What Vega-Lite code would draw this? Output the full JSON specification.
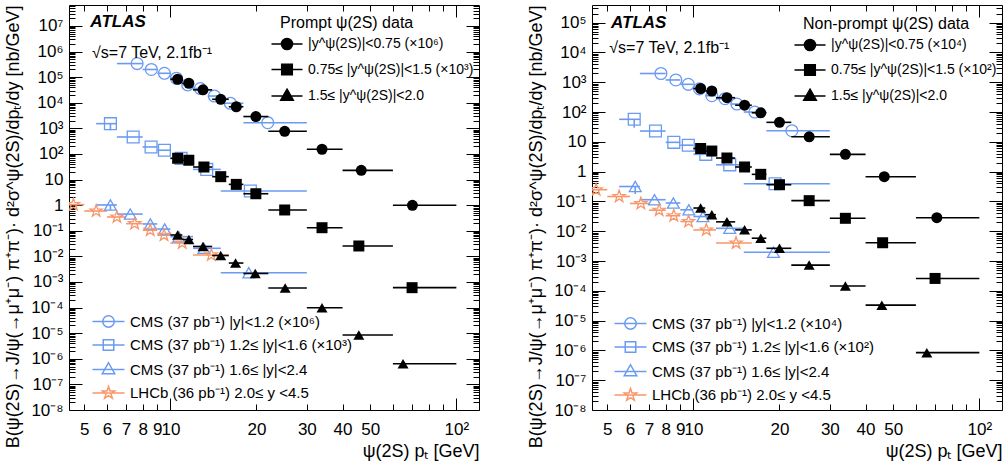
{
"$schema": "https://vega.github.io/schema/vega-lite/v6.json",
"padding": {"left": 4, "top": 4, "right": 2, "bottom": 0},
"spacing": 113,
"bounds": "flush",
"config": {
  "font": "Liberation Sans",
  "view": {"stroke": "black", "strokeWidth": 1},
  "axis": {"grid": false, "domain": false, "labelColor": "black", "titleColor": "black", "labelFont": "Liberation Sans", "titleFont": "Liberation Sans", "labelFontSize": 17, "titleFontSize": 18, "titleFontWeight": "normal", "tickColor": "black", "tickWidth": 1},
  "legend": {"labelFont": "Liberation Sans", "titleFont": "Liberation Sans", "labelFontSize": 15, "titleFontSize": 16, "titleFontWeight": "normal", "labelColor": "black", "titleColor": "black", "padding": 0, "labelLimit": 400, "titleLimit": 400}
},
"datasets": {
"P": [
{"s":"A1","x":10.6,"lo":10,"hi":11,"y":8.3e4},
{"s":"A1","x":11.6,"lo":11,"hi":12,"y":5.8e4},
{"s":"A1","x":13.0,"lo":12,"hi":14,"y":3.2e4},
{"s":"A1","x":15.0,"lo":14,"hi":16,"y":1.37e4},
{"s":"A1","x":17.0,"lo":16,"hi":18,"y":7.0e3},
{"s":"A1","x":19.9,"lo":18,"hi":22,"y":2.9e3},
{"s":"A1","x":25.1,"lo":22,"hi":30,"y":770},
{"s":"A1","x":33.9,"lo":30,"hi":40,"y":153},
{"s":"A1","x":46.5,"lo":40,"hi":60,"y":23},
{"s":"A1","x":70.2,"lo":60,"hi":100,"y":0.99},
{"s":"A2","x":10.6,"lo":10,"hi":11,"y":68},
{"s":"A2","x":11.6,"lo":11,"hi":12,"y":57},
{"s":"A2","x":13.1,"lo":12,"hi":14,"y":31},
{"s":"A2","x":15.0,"lo":14,"hi":16,"y":13},
{"s":"A2","x":17.0,"lo":16,"hi":18,"y":6.5},
{"s":"A2","x":19.9,"lo":18,"hi":22,"y":2.8},
{"s":"A2","x":25.1,"lo":22,"hi":30,"y":0.65},
{"s":"A2","x":33.9,"lo":30,"hi":40,"y":0.132},
{"s":"A2","x":45.6,"lo":40,"hi":60,"y":0.0255},
{"s":"A2","x":70.0,"lo":60,"hi":100,"y":6.0e-4},
{"s":"A3","x":10.6,"lo":10,"hi":11,"y":0.0686},
{"s":"A3","x":11.6,"lo":11,"hi":12,"y":0.0457},
{"s":"A3","x":13.0,"lo":12,"hi":14,"y":0.0244},
{"s":"A3","x":15.0,"lo":14,"hi":16,"y":0.0108},
{"s":"A3","x":16.9,"lo":16,"hi":18,"y":0.0055},
{"s":"A3","x":19.8,"lo":18,"hi":22,"y":0.00215},
{"s":"A3","x":25.2,"lo":22,"hi":30,"y":5.8e-4},
{"s":"A3","x":33.9,"lo":30,"hi":40,"y":9.9e-5},
{"s":"A3","x":45.6,"lo":40,"hi":60,"y":8.5e-6},
{"s":"A3","x":65.1,"lo":60,"hi":100,"y":6.4e-7},
{"s":"C1","x":7.65,"lo":6.5,"hi":8,"y":3.4e5},
{"s":"C1","x":8.58,"lo":8,"hi":9,"y":2.0e5},
{"s":"C1","x":9.53,"lo":9,"hi":10,"y":1.42e5},
{"s":"C1","x":10.5,"lo":10,"hi":11,"y":9.1e4},
{"s":"C1","x":11.5,"lo":11,"hi":12,"y":5.0e4},
{"s":"C1","x":12.73,"lo":12,"hi":13.5,"y":3.6e4},
{"s":"C1","x":14.25,"lo":13.5,"hi":15,"y":1.84e4},
{"s":"C1","x":16.2,"lo":15,"hi":18,"y":9.6e3},
{"s":"C1","x":21.9,"lo":18,"hi":30,"y":1.67e3},
{"s":"C2","x":6.17,"lo":5.5,"hi":6.5,"y":1530,"ylo":843,"yhi":1530},
{"s":"C2","x":7.41,"lo":6.5,"hi":8,"y":461},
{"s":"C2","x":8.56,"lo":8,"hi":9,"y":188},
{"s":"C2","x":9.53,"lo":9,"hi":10,"y":140},
{"s":"C2","x":10.9,"lo":10,"hi":12,"y":67},
{"s":"C2","x":13.4,"lo":12,"hi":15,"y":25},
{"s":"C2","x":19.04,"lo":15,"hi":30,"y":3.6},
{"s":"C3","x":6.17,"lo":5.5,"hi":6.5,"y":1.02,"ylo":0.65,"yhi":1.02},
{"s":"C3","x":7.24,"lo":6.5,"hi":8,"y":0.45},
{"s":"C3","x":8.51,"lo":8,"hi":9,"y":0.185},
{"s":"C3","x":9.55,"lo":9,"hi":10,"y":0.117},
{"s":"C3","x":10.7,"lo":10,"hi":12,"y":0.059},
{"s":"C3","x":13.1,"lo":12,"hi":15,"y":0.0207},
{"s":"C3","x":18.8,"lo":15,"hi":30,"y":0.0023},
{"s":"L","x":4.58,"lo":4,"hi":5,"y":1.05},
{"s":"L","x":5.5,"lo":5,"hi":6,"y":0.59},
{"s":"L","x":6.5,"lo":6,"hi":7,"y":0.346},
{"s":"L","x":7.5,"lo":7,"hi":8,"y":0.19},
{"s":"L","x":8.5,"lo":8,"hi":9,"y":0.105},
{"s":"L","x":9.5,"lo":9,"hi":10,"y":0.067},
{"s":"L","x":11.0,"lo":10,"hi":12,"y":0.0333},
{"s":"L","x":13.9,"lo":12,"hi":16,"y":0.0114}
],
"N": [
{"s":"A1","x":10.6,"lo":10,"hi":11,"y":615},
{"s":"A1","x":11.6,"lo":11,"hi":12,"y":507},
{"s":"A1","x":13.1,"lo":12,"hi":14,"y":302},
{"s":"A1","x":15.1,"lo":14,"hi":16,"y":169},
{"s":"A1","x":17.2,"lo":16,"hi":18,"y":94},
{"s":"A1","x":20.0,"lo":18,"hi":22,"y":45},
{"s":"A1","x":25.4,"lo":22,"hi":30,"y":14.7},
{"s":"A1","x":34.0,"lo":30,"hi":40,"y":3.8},
{"s":"A1","x":46.5,"lo":40,"hi":60,"y":0.675},
{"s":"A1","x":71.0,"lo":60,"hi":100,"y":0.0284},
{"s":"A2","x":10.6,"lo":10,"hi":11,"y":5.96},
{"s":"A2","x":11.6,"lo":11,"hi":12,"y":4.9},
{"s":"A2","x":13.1,"lo":12,"hi":14,"y":2.86},
{"s":"A2","x":15.1,"lo":14,"hi":16,"y":1.43},
{"s":"A2","x":17.2,"lo":16,"hi":18,"y":0.81},
{"s":"A2","x":20.0,"lo":18,"hi":22,"y":0.363},
{"s":"A2","x":25.4,"lo":22,"hi":30,"y":0.106},
{"s":"A2","x":34.0,"lo":30,"hi":40,"y":0.0271},
{"s":"A2","x":45.9,"lo":40,"hi":60,"y":0.0041},
{"s":"A2","x":70.0,"lo":60,"hi":100,"y":2.6e-4},
{"s":"A3","x":10.6,"lo":10,"hi":11,"y":0.060},
{"s":"A3","x":11.6,"lo":11,"hi":12,"y":0.0358},
{"s":"A3","x":13.1,"lo":12,"hi":14,"y":0.0206},
{"s":"A3","x":15.1,"lo":14,"hi":16,"y":0.0111},
{"s":"A3","x":17.2,"lo":16,"hi":18,"y":0.00582},
{"s":"A3","x":20.0,"lo":18,"hi":22,"y":0.00267},
{"s":"A3","x":25.4,"lo":22,"hi":30,"y":7.3e-4},
{"s":"A3","x":34.0,"lo":30,"hi":40,"y":1.45e-4},
{"s":"A3","x":45.6,"lo":40,"hi":60,"y":3.3e-5},
{"s":"A3","x":65.5,"lo":60,"hi":100,"y":8.4e-7},
{"s":"C1","x":7.7,"lo":6.5,"hi":8,"y":1960},
{"s":"C1","x":8.68,"lo":8,"hi":9,"y":1190},
{"s":"C1","x":9.6,"lo":9,"hi":10,"y":850},
{"s":"C1","x":10.5,"lo":10,"hi":11,"y":600},
{"s":"C1","x":11.6,"lo":11,"hi":12,"y":352},
{"s":"C1","x":12.9,"lo":12,"hi":13.5,"y":279},
{"s":"C1","x":14.2,"lo":13.5,"hi":15,"y":185},
{"s":"C1","x":16.4,"lo":15,"hi":18,"y":100},
{"s":"C1","x":22.1,"lo":18,"hi":30,"y":23.6},
{"s":"C2","x":6.21,"lo":5.5,"hi":6.5,"y":56.9,"ylo":29.7,"yhi":56.9},
{"s":"C2","x":7.37,"lo":6.5,"hi":8,"y":23},
{"s":"C2","x":8.54,"lo":8,"hi":9,"y":9.6},
{"s":"C2","x":9.6,"lo":9,"hi":10,"y":7.7},
{"s":"C2","x":11.05,"lo":10,"hi":12,"y":3.8},
{"s":"C2","x":13.4,"lo":12,"hi":15,"y":1.69},
{"s":"C2","x":19.3,"lo":15,"hi":30,"y":0.393},
{"s":"C3","x":6.26,"lo":5.5,"hi":6.5,"y":0.316,"ylo":0.177,"yhi":0.316},
{"s":"C3","x":7.31,"lo":6.5,"hi":8,"y":0.114},
{"s":"C3","x":8.51,"lo":8,"hi":9,"y":0.0883},
{"s":"C3","x":9.64,"lo":9,"hi":10,"y":0.0522},
{"s":"C3","x":10.8,"lo":10,"hi":12,"y":0.0311},
{"s":"C3","x":13.4,"lo":12,"hi":15,"y":0.0125},
{"s":"C3","x":19.05,"lo":15,"hi":30,"y":0.00197},
{"s":"L","x":4.57,"lo":4,"hi":5,"y":0.247},
{"s":"L","x":5.5,"lo":5,"hi":6,"y":0.146},
{"s":"L","x":6.55,"lo":6,"hi":7,"y":0.0851},
{"s":"L","x":7.59,"lo":7,"hi":8,"y":0.0507},
{"s":"L","x":8.54,"lo":8,"hi":9,"y":0.0331},
{"s":"L","x":9.62,"lo":9,"hi":10,"y":0.0212},
{"s":"L","x":11.1,"lo":10,"hi":12,"y":0.011},
{"s":"L","x":14.1,"lo":12,"hi":16,"y":0.004}
]
},
"hconcat": [
{
"width": 410, "height": 405,
"data": {"name": "P"},
"resolve": {"axis": {"x": "independent", "y": "independent"}, "scale": {"shape": "independent", "color": "independent"}},
"layer": [
{"transform": [{"filter": {"field": "s", "oneOf": ["C1","C2","C3"]}}],
 "mark": {"type": "rule", "color": "#6a9af2", "strokeWidth": 1.6, "clip": true},
 "encoding": {
  "x": {"field": "lo", "type": "quantitative", "scale": {"type": "log", "domain": [4.42, 120], "nice": false},
        "axis": {"orient": "bottom", "values": [5,6,7,8,9,10,20,30,40,50,100], "labelExpr": "datum.value == 100 ? '10²' : '' + datum.value", "ticks": false, "labelPadding": 11, "labelOverlap": false, "labelFlush": false, "title": "ψ(2S) pₜ [GeV]", "titleAnchor": "end", "titlePadding": 5}},
  "x2": {"field": "hi"},
  "y": {"field": "y", "type": "quantitative", "scale": {"type": "log", "domain": [1e-8, 6.6e7], "nice": false},
        "axis": {"orient": "left", "values": [1e-8,1e-7,1e-6,1e-5,1e-4,1e-3,1e-2,1e-1,1,10,100,1e3,1e4,1e5,1e6,1e7], "labelExpr": "datum.value == 1 ? '1' : datum.value == 10 ? '10' : '10' + ['⁻⁸','⁻⁷','⁻⁶','⁻⁵','⁻⁴','⁻³','⁻²','⁻¹','⁰','¹','²','³','⁴','⁵','⁶','⁷'][round(log(datum.value)/LN10) + 8]", "ticks": false, "labelPadding": 6, "labelOverlap": false, "labelFlush": false, "title": "B(ψ(2S)→J/ψ(→μ⁺μ⁻) π⁺π⁻)· d²σ^ψ(2S)/dpₜ/dy [nb/GeV]", "titleAnchor": "end", "titlePadding": 8}}
 }},
{"transform": [{"filter": {"field": "s", "equal": "L"}}],
 "mark": {"type": "rule", "color": "#f7966b", "strokeWidth": 1.6, "clip": true},
 "encoding": {
  "x": {"field": "lo", "type": "quantitative", "scale": {"type": "log", "domain": [4.42, 120], "nice": false},
        "axis": {"orient": "bottom", "values": [5,6,7,8,9,10,20,30,40,50,60,70,80,90,100], "labels": false, "title": null, "tickSize": {"condition": {"test": "datum.value == 10 || datum.value == 100", "value": -12}, "value": -6}}},
  "x2": {"field": "hi"},
  "y": {"field": "y", "type": "quantitative", "scale": {"type": "log", "domain": [1e-8, 6.6e7], "nice": false},
        "axis": {"orient": "left", "tickCount": 100, "labels": false, "title": null, "tickSize": {"condition": {"test": "abs(log(datum.value)/LN10 - round(log(datum.value)/LN10)) < 0.001", "value": -13}, "value": -6}}}
 }},
{"transform": [{"filter": "isValid(datum.ylo)"}],
 "mark": {"type": "rule", "color": "#6a9af2", "strokeWidth": 1.6, "clip": true},
 "encoding": {
  "x": {"field": "x", "type": "quantitative", "scale": {"type": "log", "domain": [4.42, 120], "nice": false},
        "axis": {"orient": "top", "values": [5,6,7,8,9,10,20,30,40,50,60,70,80,90,100], "labels": false, "title": null, "tickSize": {"condition": {"test": "datum.value == 10 || datum.value == 100", "value": -12}, "value": -6}}},
  "y": {"field": "ylo", "type": "quantitative", "scale": {"type": "log", "domain": [1e-8, 6.6e7], "nice": false},
        "axis": {"orient": "right", "tickCount": 100, "labels": false, "title": null, "tickSize": {"condition": {"test": "abs(log(datum.value)/LN10 - round(log(datum.value)/LN10)) < 0.001", "value": -13}, "value": -6}}},
  "y2": {"field": "yhi"}
 }},
{"transform": [{"filter": {"field": "s", "oneOf": ["C1","C2","C3"]}}],
 "mark": {"type": "point", "filled": false, "color": "#6a9af2", "strokeWidth": 1.3, "opacity": 1, "size": 140, "clip": true},
 "encoding": {
  "x": {"field": "x", "type": "quantitative", "scale": {"type": "log", "domain": [4.42, 120], "nice": false}, "axis": null},
  "y": {"field": "y", "type": "quantitative", "scale": {"type": "log", "domain": [1e-8, 6.6e7], "nice": false}, "axis": null},
  "shape": {"field": "s", "type": "nominal", "scale": {"domain": ["C1","C2","C3"], "range": ["circle","square","triangle-up"]}, "legend": null}
 }},
{"transform": [{"filter": {"field": "s", "equal": "L"}}],
 "mark": {"type": "point", "filled": false, "color": "#f7966b", "strokeWidth": 1.3, "opacity": 1, "size": 160, "clip": true, "shape": "M0,-1L0.235,-0.324L0.951,-0.309L0.38,0.124L0.588,0.809L0,0.4L-0.588,0.809L-0.38,0.124L-0.951,-0.309L-0.235,-0.324Z"},
 "encoding": {
  "x": {"field": "x", "type": "quantitative", "scale": {"type": "log", "domain": [4.42, 120], "nice": false}, "axis": null},
  "y": {"field": "y", "type": "quantitative", "scale": {"type": "log", "domain": [1e-8, 6.6e7], "nice": false}, "axis": null}
 }},
{"transform": [{"filter": {"field": "s", "oneOf": ["A1","A2","A3"]}}],
 "mark": {"type": "rule", "color": "black", "strokeWidth": 1.6, "clip": true},
 "encoding": {
  "x": {"field": "lo", "type": "quantitative", "scale": {"type": "log", "domain": [4.42, 120], "nice": false}, "axis": null},
  "x2": {"field": "hi"},
  "y": {"field": "y", "type": "quantitative", "scale": {"type": "log", "domain": [1e-8, 6.6e7], "nice": false}, "axis": null}
 }},
{"transform": [{"filter": {"field": "s", "oneOf": ["A1","A2","A3"]}}],
 "mark": {"type": "point", "filled": true, "color": "black", "opacity": 1, "size": 121, "clip": true},
 "encoding": {
  "x": {"field": "x", "type": "quantitative", "scale": {"type": "log", "domain": [4.42, 120], "nice": false}, "axis": null},
  "y": {"field": "y", "type": "quantitative", "scale": {"type": "log", "domain": [1e-8, 6.6e7], "nice": false}, "axis": null},
  "shape": {"field": "s", "type": "nominal", "scale": {"domain": ["A1","A2","A3"], "range": ["circle","square","triangle-up"]}, "legend": null}
 }},
{"transform": [{"filter": "false"}],
 "mark": {"type": "point", "filled": true, "color": "black", "stroke": "black", "strokeWidth": 1.6, "opacity": 1},
 "encoding": {
  "x": {"field": "x", "type": "quantitative", "scale": {"type": "log", "domain": [4.42, 120], "nice": false}, "axis": null},
  "y": {"field": "y", "type": "quantitative", "scale": {"type": "log", "domain": [1e-8, 6.6e7], "nice": false}, "axis": null},
  "shape": {"field": "s", "type": "nominal",
   "scale": {"domain": ["A1","A2","A3"], "range": ["M-3.1,0H3.1M-1.1,0A1.1,1.1,0,1,0,1.1,0A1.1,1.1,0,1,0,-1.1,0Z", "M-3.1,0H3.1M-1.05,-1.05H1.05V1.05H-1.05Z", "M-3.1,0H3.1M0,-1.35L1.25,0.85H-1.25Z"]},
   "legend": {"orient": "none", "legendX": 211, "legendY": 10, "title": "Prompt ψ(2S) data", "titleAnchor": "start", "titlePadding": 6, "symbolSize": 100, "symbolStrokeWidth": 1.6, "labelOffset": 14, "rowPadding": 7.5, "labelFontSize": 14,
     "labelExpr": "{'A1': '|y^ψ(2S)|<0.75 (×10⁶)', 'A2': '0.75≤ |y^ψ(2S)|<1.5 (×10³)', 'A3': '1.5≤ |y^ψ(2S)|<2.0'}[datum.value]"}}
 }},
{"transform": [{"filter": "false"}],
 "mark": {"type": "point", "filled": false, "strokeWidth": 1.5, "opacity": 1},
 "encoding": {
  "x": {"field": "x", "type": "quantitative", "scale": {"type": "log", "domain": [4.42, 120], "nice": false}, "axis": null},
  "y": {"field": "y", "type": "quantitative", "scale": {"type": "log", "domain": [1e-8, 6.6e7], "nice": false}, "axis": null},
  "shape": {"field": "s", "type": "nominal",
   "scale": {"domain": ["C1","C2","C3","L"], "range": ["M-3.2,0H3.2M-1.15,0A1.15,1.15,0,1,0,1.15,0A1.15,1.15,0,1,0,-1.15,0Z", "M-3.2,0H3.2M-1.05,-1.05H1.05V1.05H-1.05Z", "M-3.2,0H3.2M0,-1.35L1.25,0.85H-1.25Z", "M-3.2,0H3.2M0,-1.3L0.3,-0.42L1.24,-0.4L0.49,0.16L0.76,1.05L0,0.52L-0.76,1.05L-0.49,0.16L-1.24,-0.4L-0.3,-0.42Z"]},
   "legend": {"orient": "none", "legendX": 32, "legendY": 309, "title": null, "symbolSize": 100, "symbolStrokeWidth": 1.5, "labelOffset": 14, "rowPadding": 5.5,
     "labelExpr": "{'C1': 'CMS (37 pb⁻¹) |y|<1.2 (×10⁶)', 'C2': 'CMS (37 pb⁻¹) 1.2≤ |y|<1.6 (×10³)', 'C3': 'CMS (37 pb⁻¹) 1.6≤ |y|<2.4', 'L': 'LHCb (36 pb⁻¹) 2.0≤ y <4.5'}[datum.value]"}},
  "color": {"field": "s", "type": "nominal",
   "scale": {"domain": ["C1","C2","C3","L"], "range": ["#6a9af2","#6a9af2","#6a9af2","#f7966b"]},
   "legend": {"orient": "none", "legendX": 32, "legendY": 309, "title": null, "symbolSize": 100, "symbolStrokeWidth": 1.5, "labelOffset": 14, "rowPadding": 5.5,
     "labelExpr": "{'C1': 'CMS (37 pb⁻¹) |y|<1.2 (×10⁶)', 'C2': 'CMS (37 pb⁻¹) 1.2≤ |y|<1.6 (×10³)', 'C3': 'CMS (37 pb⁻¹) 1.6≤ |y|<2.4', 'L': 'LHCb (36 pb⁻¹) 2.0≤ y <4.5'}[datum.value]"}}
 }},
{"data": {"values": [{"t": "ATLAS"}]},
 "mark": {"type": "text", "align": "left", "baseline": "middle", "fontSize": 17, "fontWeight": "bold", "fontStyle": "italic", "color": "black"},
 "encoding": {
  "x": {"datum": 5.25, "type": "quantitative", "scale": {"type": "log", "domain": [4.42, 120], "nice": false}, "axis": null},
  "y": {"datum": 1.4e7, "type": "quantitative", "scale": {"type": "log", "domain": [1e-8, 6.6e7], "nice": false}, "axis": null},
  "text": {"field": "t"}
 }},
{"data": {"values": [{"t": "√s=7 TeV, 2.1fb⁻¹"}]},
 "mark": {"type": "text", "align": "left", "baseline": "middle", "fontSize": 16, "color": "black"},
 "encoding": {
  "x": {"datum": 5.32, "type": "quantitative", "scale": {"type": "log", "domain": [4.42, 120], "nice": false}, "axis": null},
  "y": {"datum": 9.0e5, "type": "quantitative", "scale": {"type": "log", "domain": [1e-8, 6.6e7], "nice": false}, "axis": null},
  "text": {"field": "t"}
 }}
]
},
{
"width": 410, "height": 405,
"data": {"name": "N"},
"resolve": {"axis": {"x": "independent", "y": "independent"}, "scale": {"shape": "independent", "color": "independent"}},
"layer": [
{"transform": [{"filter": {"field": "s", "oneOf": ["C1","C2","C3"]}}],
 "mark": {"type": "rule", "color": "#6a9af2", "strokeWidth": 1.6, "clip": true},
 "encoding": {
  "x": {"field": "lo", "type": "quantitative", "scale": {"type": "log", "domain": [4.42, 120], "nice": false},
        "axis": {"orient": "bottom", "values": [5,6,7,8,9,10,20,30,40,50,100], "labelExpr": "datum.value == 100 ? '10²' : '' + datum.value", "ticks": false, "labelPadding": 11, "labelOverlap": false, "labelFlush": false, "title": "ψ(2S) pₜ [GeV]", "titleAnchor": "end", "titlePadding": 5}},
  "x2": {"field": "hi"},
  "y": {"field": "y", "type": "quantitative", "scale": {"type": "log", "domain": [1e-8, 3.9e5], "nice": false},
        "axis": {"orient": "left", "values": [1e-8,1e-7,1e-6,1e-5,1e-4,1e-3,1e-2,1e-1,1,10,100,1e3,1e4,1e5], "labelExpr": "datum.value == 1 ? '1' : datum.value == 10 ? '10' : '10' + ['⁻⁸','⁻⁷','⁻⁶','⁻⁵','⁻⁴','⁻³','⁻²','⁻¹','⁰','¹','²','³','⁴','⁵','⁶','⁷'][round(log(datum.value)/LN10) + 8]", "ticks": false, "labelPadding": 6, "labelOverlap": false, "labelFlush": false, "title": "B(ψ(2S)→J/ψ(→μ⁺μ⁻) π⁺π⁻)· d²σ^ψ(2S)/dpₜ/dy [nb/GeV]", "titleAnchor": "end", "titlePadding": 8}}
 }},
{"transform": [{"filter": {"field": "s", "equal": "L"}}],
 "mark": {"type": "rule", "color": "#f7966b", "strokeWidth": 1.6, "clip": true},
 "encoding": {
  "x": {"field": "lo", "type": "quantitative", "scale": {"type": "log", "domain": [4.42, 120], "nice": false},
        "axis": {"orient": "bottom", "values": [5,6,7,8,9,10,20,30,40,50,60,70,80,90,100], "labels": false, "title": null, "tickSize": {"condition": {"test": "datum.value == 10 || datum.value == 100", "value": -12}, "value": -6}}},
  "x2": {"field": "hi"},
  "y": {"field": "y", "type": "quantitative", "scale": {"type": "log", "domain": [1e-8, 3.9e5], "nice": false},
        "axis": {"orient": "left", "tickCount": 100, "labels": false, "title": null, "tickSize": {"condition": {"test": "abs(log(datum.value)/LN10 - round(log(datum.value)/LN10)) < 0.001", "value": -13}, "value": -6}}}
 }},
{"transform": [{"filter": "isValid(datum.ylo)"}],
 "mark": {"type": "rule", "color": "#6a9af2", "strokeWidth": 1.6, "clip": true},
 "encoding": {
  "x": {"field": "x", "type": "quantitative", "scale": {"type": "log", "domain": [4.42, 120], "nice": false},
        "axis": {"orient": "top", "values": [5,6,7,8,9,10,20,30,40,50,60,70,80,90,100], "labels": false, "title": null, "tickSize": {"condition": {"test": "datum.value == 10 || datum.value == 100", "value": -12}, "value": -6}}},
  "y": {"field": "ylo", "type": "quantitative", "scale": {"type": "log", "domain": [1e-8, 3.9e5], "nice": false},
        "axis": {"orient": "right", "tickCount": 100, "labels": false, "title": null, "tickSize": {"condition": {"test": "abs(log(datum.value)/LN10 - round(log(datum.value)/LN10)) < 0.001", "value": -13}, "value": -6}}},
  "y2": {"field": "yhi"}
 }},
{"transform": [{"filter": {"field": "s", "oneOf": ["C1","C2","C3"]}}],
 "mark": {"type": "point", "filled": false, "color": "#6a9af2", "strokeWidth": 1.3, "opacity": 1, "size": 140, "clip": true},
 "encoding": {
  "x": {"field": "x", "type": "quantitative", "scale": {"type": "log", "domain": [4.42, 120], "nice": false}, "axis": null},
  "y": {"field": "y", "type": "quantitative", "scale": {"type": "log", "domain": [1e-8, 3.9e5], "nice": false}, "axis": null},
  "shape": {"field": "s", "type": "nominal", "scale": {"domain": ["C1","C2","C3"], "range": ["circle","square","triangle-up"]}, "legend": null}
 }},
{"transform": [{"filter": {"field": "s", "equal": "L"}}],
 "mark": {"type": "point", "filled": false, "color": "#f7966b", "strokeWidth": 1.3, "opacity": 1, "size": 160, "clip": true, "shape": "M0,-1L0.235,-0.324L0.951,-0.309L0.38,0.124L0.588,0.809L0,0.4L-0.588,0.809L-0.38,0.124L-0.951,-0.309L-0.235,-0.324Z"},
 "encoding": {
  "x": {"field": "x", "type": "quantitative", "scale": {"type": "log", "domain": [4.42, 120], "nice": false}, "axis": null},
  "y": {"field": "y", "type": "quantitative", "scale": {"type": "log", "domain": [1e-8, 3.9e5], "nice": false}, "axis": null}
 }},
{"transform": [{"filter": {"field": "s", "oneOf": ["A1","A2","A3"]}}],
 "mark": {"type": "rule", "color": "black", "strokeWidth": 1.6, "clip": true},
 "encoding": {
  "x": {"field": "lo", "type": "quantitative", "scale": {"type": "log", "domain": [4.42, 120], "nice": false}, "axis": null},
  "x2": {"field": "hi"},
  "y": {"field": "y", "type": "quantitative", "scale": {"type": "log", "domain": [1e-8, 3.9e5], "nice": false}, "axis": null}
 }},
{"transform": [{"filter": {"field": "s", "oneOf": ["A1","A2","A3"]}}],
 "mark": {"type": "point", "filled": true, "color": "black", "opacity": 1, "size": 121, "clip": true},
 "encoding": {
  "x": {"field": "x", "type": "quantitative", "scale": {"type": "log", "domain": [4.42, 120], "nice": false}, "axis": null},
  "y": {"field": "y", "type": "quantitative", "scale": {"type": "log", "domain": [1e-8, 3.9e5], "nice": false}, "axis": null},
  "shape": {"field": "s", "type": "nominal", "scale": {"domain": ["A1","A2","A3"], "range": ["circle","square","triangle-up"]}, "legend": null}
 }},
{"transform": [{"filter": "false"}],
 "mark": {"type": "point", "filled": true, "color": "black", "stroke": "black", "strokeWidth": 1.6, "opacity": 1},
 "encoding": {
  "x": {"field": "x", "type": "quantitative", "scale": {"type": "log", "domain": [4.42, 120], "nice": false}, "axis": null},
  "y": {"field": "y", "type": "quantitative", "scale": {"type": "log", "domain": [1e-8, 3.9e5], "nice": false}, "axis": null},
  "shape": {"field": "s", "type": "nominal",
   "scale": {"domain": ["A1","A2","A3"], "range": ["M-3.1,0H3.1M-1.1,0A1.1,1.1,0,1,0,1.1,0A1.1,1.1,0,1,0,-1.1,0Z", "M-3.1,0H3.1M-1.05,-1.05H1.05V1.05H-1.05Z", "M-3.1,0H3.1M0,-1.35L1.25,0.85H-1.25Z"]},
   "legend": {"orient": "none", "legendX": 211, "legendY": 11, "title": "Non-prompt ψ(2S) data", "titleAnchor": "start", "titlePadding": 6, "symbolSize": 100, "symbolStrokeWidth": 1.6, "labelOffset": 14, "rowPadding": 7, "labelFontSize": 14,
     "labelExpr": "{'A1': '|y^ψ(2S)|<0.75 (×10⁴)', 'A2': '0.75≤ |y^ψ(2S)|<1.5 (×10²)', 'A3': '1.5≤ |y^ψ(2S)|<2.0'}[datum.value]"}}
 }},
{"transform": [{"filter": "false"}],
 "mark": {"type": "point", "filled": false, "strokeWidth": 1.5, "opacity": 1},
 "encoding": {
  "x": {"field": "x", "type": "quantitative", "scale": {"type": "log", "domain": [4.42, 120], "nice": false}, "axis": null},
  "y": {"field": "y", "type": "quantitative", "scale": {"type": "log", "domain": [1e-8, 3.9e5], "nice": false}, "axis": null},
  "shape": {"field": "s", "type": "nominal",
   "scale": {"domain": ["C1","C2","C3","L"], "range": ["M-3.2,0H3.2M-1.15,0A1.15,1.15,0,1,0,1.15,0A1.15,1.15,0,1,0,-1.15,0Z", "M-3.2,0H3.2M-1.05,-1.05H1.05V1.05H-1.05Z", "M-3.2,0H3.2M0,-1.35L1.25,0.85H-1.25Z", "M-3.2,0H3.2M0,-1.3L0.3,-0.42L1.24,-0.4L0.49,0.16L0.76,1.05L0,0.52L-0.76,1.05L-0.49,0.16L-1.24,-0.4L-0.3,-0.42Z"]},
   "legend": {"orient": "none", "legendX": 31, "legendY": 311, "title": null, "symbolSize": 100, "symbolStrokeWidth": 1.5, "labelOffset": 14, "rowPadding": 5.5,
     "labelExpr": "{'C1': 'CMS (37 pb⁻¹) |y|<1.2 (×10⁴)', 'C2': 'CMS (37 pb⁻¹) 1.2≤ |y|<1.6 (×10²)', 'C3': 'CMS (37 pb⁻¹) 1.6≤ |y|<2.4', 'L': 'LHCb (36 pb⁻¹) 2.0≤ y <4.5'}[datum.value]"}},
  "color": {"field": "s", "type": "nominal",
   "scale": {"domain": ["C1","C2","C3","L"], "range": ["#6a9af2","#6a9af2","#6a9af2","#f7966b"]},
   "legend": {"orient": "none", "legendX": 31, "legendY": 311, "title": null, "symbolSize": 100, "symbolStrokeWidth": 1.5, "labelOffset": 14, "rowPadding": 5.5,
     "labelExpr": "{'C1': 'CMS (37 pb⁻¹) |y|<1.2 (×10⁴)', 'C2': 'CMS (37 pb⁻¹) 1.2≤ |y|<1.6 (×10²)', 'C3': 'CMS (37 pb⁻¹) 1.6≤ |y|<2.4', 'L': 'LHCb (36 pb⁻¹) 2.0≤ y <4.5'}[datum.value]"}}
 }},
{"data": {"values": [{"t": "ATLAS"}]},
 "mark": {"type": "text", "align": "left", "baseline": "middle", "fontSize": 17, "fontWeight": "bold", "fontStyle": "italic", "color": "black"},
 "encoding": {
  "x": {"datum": 5.15, "type": "quantitative", "scale": {"type": "log", "domain": [4.42, 120], "nice": false}, "axis": null},
  "y": {"datum": 9.7e4, "type": "quantitative", "scale": {"type": "log", "domain": [1e-8, 3.9e5], "nice": false}, "axis": null},
  "text": {"field": "t"}
 }},
{"data": {"values": [{"t": "√s=7 TeV, 2.1fb⁻¹"}]},
 "mark": {"type": "text", "align": "left", "baseline": "middle", "fontSize": 16, "color": "black"},
 "encoding": {
  "x": {"datum": 5.08, "type": "quantitative", "scale": {"type": "log", "domain": [4.42, 120], "nice": false}, "axis": null},
  "y": {"datum": 1.44e4, "type": "quantitative", "scale": {"type": "log", "domain": [1e-8, 3.9e5], "nice": false}, "axis": null},
  "text": {"field": "t"}
 }}
]
}
]
}
